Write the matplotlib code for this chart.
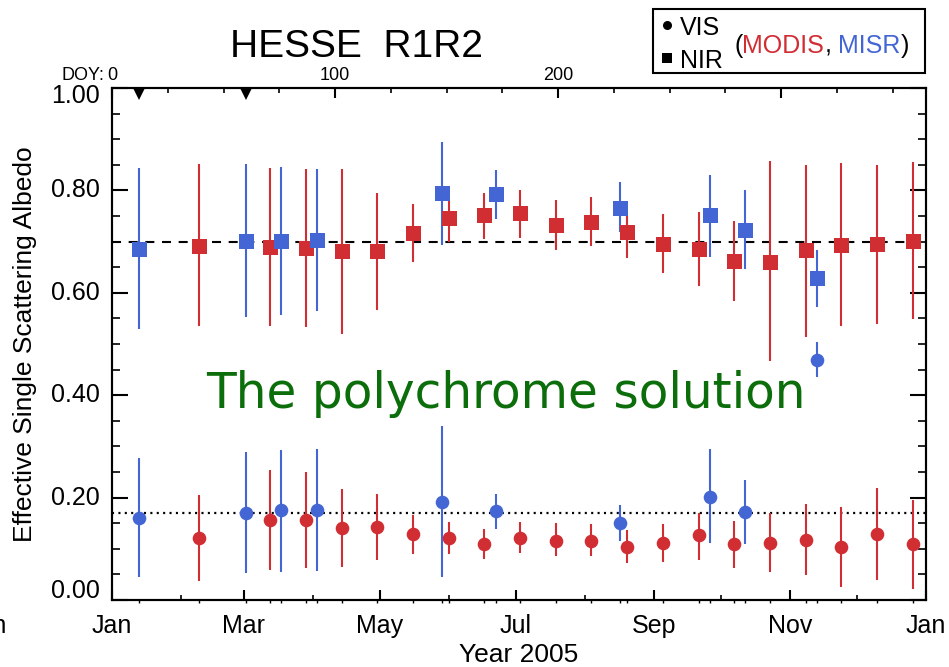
import matplotlib
matplotlib.use("Agg")
import numpy as np
import matplotlib.pyplot as plt
from matplotlib.lines import Line2D
from matplotlib.patches import Rectangle
from matplotlib.ticker import FixedLocator, MultipleLocator, NullFormatter
import matplotlib.transforms as mtransforms

plt.rcParams['font.family'] = ['Liberation Sans', 'DejaVu Sans']
plt.rcParams['lines.scale_dashes'] = False

# ---------------- data ----------------
# MODIS 16-day retrievals (day of year 2005)
modis_doy = [39, 71, 87, 103, 119, 135, 151, 167, 183, 199,
             215, 231, 247, 263, 279, 295, 311, 327, 343, 359]
modis_nir = [0.692, 0.690, 0.688, 0.681, 0.681, 0.716, 0.747, 0.751, 0.755, 0.733,
             0.739, 0.718, 0.696, 0.685, 0.663, 0.661, 0.683, 0.694, 0.696, 0.702]
modis_nir_lo = [0.535, 0.535, 0.534, 0.520, 0.566, 0.660, 0.699, 0.706, 0.707, 0.683,
                0.692, 0.668, 0.638, 0.613, 0.584, 0.466, 0.513, 0.536, 0.540, 0.549]
modis_nir_hi = [0.851, 0.843, 0.842, 0.842, 0.794, 0.773, 0.781, 0.795, 0.801, 0.782,
                0.788, 0.755, 0.753, 0.757, 0.740, 0.857, 0.850, 0.854, 0.850, 0.856]
modis_vis = [0.122, 0.157, 0.157, 0.141, 0.143, 0.128, 0.122, 0.109, 0.122, 0.116,
             0.116, 0.104, 0.111, 0.126, 0.109, 0.111, 0.117, 0.103, 0.128, 0.109]
modis_vis_lo = [0.038, 0.059, 0.062, 0.065, 0.078, 0.089, 0.090, 0.081, 0.091, 0.085,
                0.086, 0.072, 0.074, 0.079, 0.063, 0.054, 0.048, 0.025, 0.039, 0.022]
modis_vis_hi = [0.205, 0.254, 0.250, 0.217, 0.207, 0.166, 0.153, 0.138, 0.152, 0.150,
                0.149, 0.136, 0.149, 0.170, 0.155, 0.169, 0.187, 0.182, 0.218, 0.195]

# MISR retrievals
misr_doy = [12, 60, 76, 92, 148, 172, 228, 268, 284, 316]
misr_nir = [0.686, 0.702, 0.702, 0.704, 0.794, 0.792, 0.766, 0.751, 0.723, 0.628]
misr_nir_lo = [0.529, 0.553, 0.557, 0.564, 0.694, 0.744, 0.719, 0.669, 0.646, 0.573]
misr_nir_hi = [0.843, 0.851, 0.846, 0.842, 0.895, 0.840, 0.816, 0.831, 0.801, 0.683]
misr_vis = [0.161, 0.170, 0.175, 0.176, 0.192, 0.174, 0.150, 0.202, 0.172, 0.469]
misr_vis_lo = [0.044, 0.052, 0.055, 0.057, 0.044, 0.139, 0.115, 0.111, 0.109, 0.436]
misr_vis_hi = [0.278, 0.290, 0.293, 0.295, 0.339, 0.207, 0.185, 0.294, 0.235, 0.503]

# flagged dates (top markers) and reference albedos
flag_doy = [12, 60]
nir_ref = 0.70
vis_ref = 0.17

month_start = [0, 31, 59, 90, 120, 151, 181, 212, 243, 273, 304, 334, 365]
month_names = ['Jan', 'Feb', 'Mar', 'Apr', 'May', 'Jun', 'Jul',
               'Aug', 'Sep', 'Oct', 'Nov', 'Dec', 'Jan']
y_major = [0.0, 0.2, 0.4, 0.6, 0.8, 1.0]
doy_major = [0, 100, 200, 300]
doy_labels = ['0', '100', '200', '']

RED = '#D12E34'
BLUE = '#4466D5'
GREEN = '#0B6E0B'

# ---------------- figure ----------------
W, H = 949, 667
fig = plt.figure(figsize=(W / 100, H / 100), dpi=100)
ax = fig.add_axes([112 / W, 1 - 600 / H, (926 - 112) / W, (600 - 88) / H])
ax.set_xlim(0, 365)
ax.set_ylim(0, 1)


def err(v, lo, hi):
    v, lo, hi = map(np.asarray, (v, lo, hi))
    return np.vstack([v - lo, hi - v])


kw = dict(elinewidth=1.5, capsize=0, markeredgewidth=0, zorder=3)
ax.errorbar(modis_doy, modis_nir, yerr=err(modis_nir, modis_nir_lo, modis_nir_hi),
            fmt='s', ms=10.8, color=RED, ecolor=RED, **kw)
ax.errorbar(modis_doy, modis_vis, yerr=err(modis_vis, modis_vis_lo, modis_vis_hi),
            fmt='o', ms=9.8, color=RED, ecolor=RED, **kw)
ax.errorbar(misr_doy, misr_nir, yerr=err(misr_nir, misr_nir_lo, misr_nir_hi),
            fmt='s', ms=10.8, color=BLUE, ecolor=BLUE, **kw)
ax.errorbar(misr_doy, misr_vis, yerr=err(misr_vis, misr_vis_lo, misr_vis_hi),
            fmt='o', ms=9.8, color=BLUE, ecolor=BLUE, **kw)

ax.axhline(nir_ref, color='k', lw=1.5, dashes=(6.5, 5.5), zorder=2)
ax.axhline(vis_ref, color='k', lw=1.6, dashes=(1.5, 3.1), zorder=2)

# flagged dates along the top
ax.plot(flag_doy, [0.989] * len(flag_doy), 'v', color='k', ms=8, mew=0,
        transform=ax.get_xaxis_transform(), clip_on=False, zorder=4)

# spines and ticks
for s in ax.spines.values():
    s.set_linewidth(1.5)

ax.xaxis.set_major_locator(FixedLocator(month_start[::2]))
ax.xaxis.set_minor_locator(FixedLocator(month_start[1::2]))
ax.set_xticklabels(month_names[::2])
ax.tick_params(axis='x', which='major', direction='in', length=7.2, width=1.5,
               labelsize=18, pad=10, top=False)
ax.tick_params(axis='x', which='minor', direction='in', length=3.6, width=1.2, top=False)

# small ticks at each retrieval date
all_doy = sorted(set(modis_doy) | set(misr_doy))
ax.vlines(all_doy, 0, -0.005, colors='k', lw=1.0, transform=ax.get_xaxis_transform(),
          clip_on=False)

ax.yaxis.set_major_locator(FixedLocator(y_major))
ax.yaxis.set_minor_locator(MultipleLocator(0.05))
ax.yaxis.set_major_formatter(NullFormatter())
ax.tick_params(axis='y', which='major', direction='in', length=11.5, width=1.5,
               right=True, left=True)
ax.tick_params(axis='y', which='minor', direction='in', length=6.0, width=1.2,
               right=True, left=True)

# y tick labels; the end labels sit inside the axis range
ytrans = ax.get_yaxis_transform()
for v in y_major:
    dy = 0
    if v == y_major[-1]:
        dy = -8
    elif v == y_major[0]:
        dy = 9
    off = mtransforms.ScaledTranslation(-12 / 100, dy / 100, fig.dpi_scale_trans)
    ax.text(0, v, f'{v:.2f}', transform=ytrans + off, ha='right', va='center',
            fontsize=18)

# top axis: day of year
ax2 = ax.twiny()
ax2.set_xlim(0, 365)
ax2.xaxis.set_major_locator(FixedLocator(doy_major))
ax2.xaxis.set_minor_locator(MultipleLocator(25))
ax2.set_xticklabels(doy_labels)
ax2.tick_params(axis='x', which='major', direction='in', length=7.2, width=1.5,
                labelsize=13, pad=3)
ax2.tick_params(axis='x', which='minor', direction='in', length=3.6, width=1.2)
for s in ax2.spines.values():
    s.set_linewidth(1.5)
fig.text(104 / W, 1 - 80 / H, 'DOY:', ha='right', va='baseline', fontsize=13)

# labels and title
fig.text(25.5 / W, 1 - 344 / H, 'Effective Single Scattering Albedo', rotation=90,
         ha='center', va='center', fontsize=19)
fig.text(519 / W, 1 - 662 / H, 'Year 2005', ha='center', va='baseline', fontsize=19)
fig.text(7 / W, 1 - 633 / H, 'Jan', ha='right', va='baseline', fontsize=18)
fig.text(357 / W, 1 - 57 / H, 'HESSE  R1R2', ha='center', va='baseline', fontsize=28)

# annotation
fig.text(206 / W, 1 - 408 / H, 'The polychrome solution', color=GREEN,
         ha='left', va='baseline', fontsize=35, family='DejaVu Sans')

# legend box
fig.add_artist(Rectangle((653 / W, 1 - 73 / H), 272 / W, 64 / H, fill=False,
                         lw=1.5, edgecolor='k', transform=fig.transFigure))
fig.add_artist(Line2D([667 / W], [1 - 25 / H], marker='o', ms=6.5, mew=0, color='k',
                      transform=fig.transFigure))
fig.add_artist(Line2D([667 / W], [1 - 58 / H], marker='s', ms=7.2, mew=0, color='k',
                      transform=fig.transFigure))
fig.text(680 / W, 1 - 35 / H, 'VIS', ha='left', va='baseline', fontsize=18)
fig.text(680 / W, 1 - 68 / H, 'NIR', ha='left', va='baseline', fontsize=18)
renderer = fig.canvas.get_renderer()
x = 734 / W
for s, c in [('(', 'k'), ('MODIS', RED), (',', 'k'), (' ', 'k'), ('MISR', BLUE), (')', 'k')]:
    t = fig.text(x, 1 - 53 / H, s, color=c, ha='left', va='baseline', fontsize=18)
    if s == ' ':
        w = 0.278 * 18 * 100 / 72
    else:
        w = t.get_window_extent(renderer).width
    x += w / W

fig.savefig('out.png', dpi=100)
